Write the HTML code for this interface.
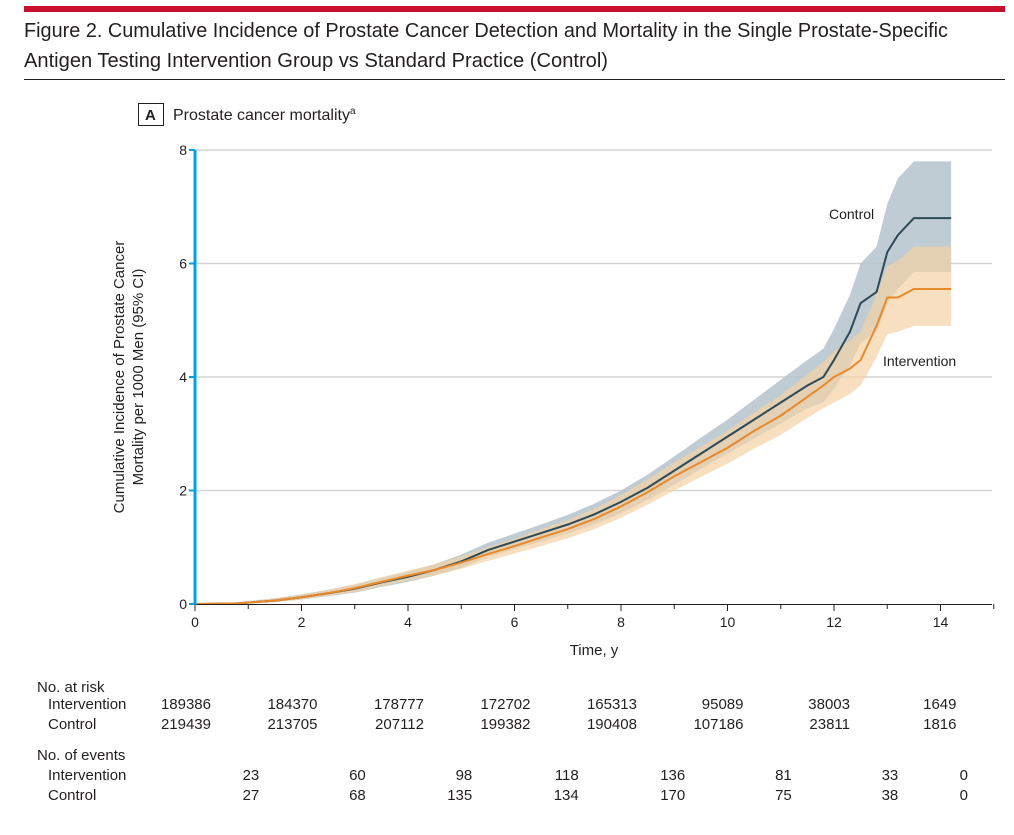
<!DOCTYPE html>
<html><head><meta charset="utf-8"><style>
body{margin:0;background:#fff;font-family:"Liberation Sans",sans-serif;}
svg text{font-family:"Liberation Sans",sans-serif;fill:#231f20;}
</style></head><body>
<svg width="1014" height="830">
<rect x="24" y="6" width="981" height="6" fill="#c8102e"/>
<text x="24" y="37" font-size="20" textLength="924" lengthAdjust="spacingAndGlyphs">Figure 2. Cumulative Incidence of Prostate Cancer Detection and Mortality in the Single Prostate-Specific</text>
<text x="24" y="67" font-size="20" textLength="584" lengthAdjust="spacingAndGlyphs">Antigen Testing Intervention Group vs Standard Practice (Control)</text>
<line x1="24" y1="79.5" x2="1005" y2="79.5" stroke="#231f20" stroke-width="1"/>
<rect x="138.5" y="103.5" width="25" height="22" fill="none" stroke="#231f20"/>
<text x="145" y="120" font-size="15" font-weight="bold">A</text>
<text x="173" y="120" font-size="16">Prostate cancer mortality<tspan font-size="10" dy="-6">a</tspan></text>
<g id="plot"></g>
<g id="table"></g>
</svg>
<script>
const times   =[0,0.8,1.5,2,2.5,3,3.5,4,4.5,5,5.5,6,6.5,7,7.5,8,8.5,9,9.5,10,10.5,11,11.5,11.8,12,12.3,12.5,12.8,13,13.2,13.5,14.2];
const ctrl    =[0,0.01,0.06,0.12,0.19,0.27,0.38,0.48,0.6,0.75,0.95,1.1,1.25,1.4,1.58,1.8,2.05,2.35,2.65,2.95,3.25,3.55,3.85,4.0,4.3,4.8,5.3,5.5,6.2,6.5,6.8,6.8];
const ctrlLo  =[0,0,0.03,0.08,0.14,0.2,0.3,0.39,0.5,0.64,0.83,0.97,1.1,1.24,1.4,1.6,1.83,2.1,2.38,2.65,2.92,3.18,3.45,3.55,3.8,4.2,4.6,4.8,5.3,5.55,5.85,5.85];
const ctrlHi  =[0,0.03,0.1,0.17,0.25,0.34,0.46,0.57,0.7,0.87,1.08,1.24,1.4,1.57,1.77,2.0,2.28,2.6,2.93,3.25,3.6,3.95,4.3,4.5,4.85,5.45,6.0,6.3,7.05,7.5,7.8,7.8];
const intv    =[0,0.01,0.06,0.12,0.19,0.28,0.39,0.5,0.6,0.73,0.88,1.02,1.17,1.32,1.5,1.72,1.97,2.25,2.5,2.75,3.05,3.32,3.65,3.85,4.0,4.15,4.3,4.9,5.4,5.4,5.55,5.55];
const intvLo  =[0,0,0.03,0.08,0.14,0.21,0.31,0.41,0.5,0.62,0.76,0.89,1.02,1.16,1.32,1.52,1.75,2.0,2.24,2.47,2.74,2.98,3.28,3.45,3.55,3.7,3.85,4.35,4.75,4.8,4.9,4.9];
const intvHi  =[0,0.03,0.1,0.17,0.25,0.35,0.47,0.59,0.7,0.84,1.0,1.15,1.32,1.48,1.68,1.92,2.2,2.5,2.77,3.05,3.38,3.68,4.05,4.27,4.45,4.65,4.8,5.45,5.95,6.05,6.3,6.3];
const xTicks=[0,2,4,6,8,10,12,14];
const yTicks=[0,2,4,6,8];
const riskInt=["189386","184370","178777","172702","165313","95089","38003","1649"];
const riskCtl=["219439","213705","207112","199382","190408","107186","23811","1816"];
const evInt=["23","60","98","118","136","81","33","0"];
const evCtl=["27","68","135","134","170","75","38","0"];

const NS="http://www.w3.org/2000/svg";
const X=t=>195+t*53.25, Y=v=>604-v*56.75;
const plot=document.getElementById('plot'), table=document.getElementById('table');
function mk(tag,attrs,parent,txt){const e=document.createElementNS(NS,tag);for(const k in attrs)e.setAttribute(k,attrs[k]);if(txt!==undefined)e.textContent=txt;parent.appendChild(e);return e;}
function pts(arr){return times.map((t,i)=>[X(t),Y(arr[i])]);}
function line(arr){return 'M'+pts(arr).map(p=>p[0].toFixed(1)+','+p[1].toFixed(1)).join('L');}
function band(lo,hi){const a=pts(hi),b=pts(lo).reverse();return 'M'+a.concat(b).map(p=>p[0].toFixed(1)+','+p[1].toFixed(1)).join('L')+'Z';}

yTicks.forEach(v=>{if(v>0){const g=mk('line',{x1:195,x2:992,y1:Y(v),y2:Y(v),stroke:'#d4d4d4','stroke-width':1.5},plot);

}
const t=mk('text',{x:187,y:Y(v)+5,'font-size':14,'text-anchor':'end'},plot,String(v));

});
let e;
e=mk('path',{d:band(ctrlLo,ctrlHi),fill:'#b4c3cc','fill-opacity':0.85},plot);


e=mk('path',{d:band(intvLo,intvHi),fill:'#f3d2a5','fill-opacity':0.7},plot);


e=mk('path',{d:line(ctrl),fill:'none',stroke:'#2e4a56','stroke-width':2},plot);


e=mk('path',{d:line(intv),fill:'none',stroke:'#e8892a','stroke-width':2},plot);


e=mk('line',{x1:195,x2:992,y1:604.5,y2:604.5,stroke:'#231f20','stroke-width':1},plot);


e=mk('line',{x1:195,x2:195,y1:150,y2:605,stroke:'#00a3e0','stroke-width':3},plot);


for(let t=0;t<=15;t++){const l=mk('line',{x1:X(t),x2:X(t),y1:604,y2:t%2?609:611,stroke:'#231f20'},plot);

}
yTicks.forEach(v=>{const l=mk('line',{x1:189,x2:195,y1:Y(v),y2:Y(v),stroke:'#00a3e0','stroke-width':2},plot);

});
xTicks.forEach(t=>{const l=mk('text',{x:X(t),y:627,'font-size':14,'text-anchor':'middle'},plot,String(t));

});
e=mk('text',{x:594,y:655,'font-size':15,'text-anchor':'middle'},plot,'Time, y');


e=mk('text',{transform:'translate(124,377) rotate(-90)','font-size':15,'text-anchor':'middle'},plot,'Cumulative Incidence of Prostate Cancer');


e=mk('text',{transform:'translate(143,377) rotate(-90)','font-size':15,'text-anchor':'middle'},plot,'Mortality per 1000 Men (95% CI)');


e=mk('text',{x:829,y:219,'font-size':14},plot,'Control');


e=mk('text',{x:883,y:366,'font-size':14},plot,'Intervention');



const rows=[["No. at risk",692,null],["Intervention",709,riskInt],["Control",729,riskCtl],["No. of events",760,null],["Intervention",780,evInt],["Control",800,evCtl]];
rows.forEach((r,ri)=>{const lab=mk('text',{x:r[2]?48:37,y:r[1],'font-size':15},table,r[0]);


if(r[2]){const ev=ri>=4;r[2].forEach((v,i)=>{const x=ev?(i<7?X(2*i+1)+11:968):X(2*i)+16;
const c=mk('text',{x:x,y:r[1],'font-size':15,'text-anchor':'end'},table,v);

});}});
</script>
</body></html>
